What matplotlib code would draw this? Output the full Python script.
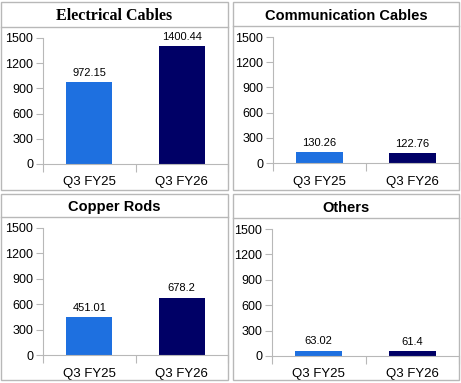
import matplotlib
matplotlib.use("Agg")
import matplotlib.pyplot as plt
from matplotlib.patches import Rectangle
from matplotlib.lines import Line2D

# dados de cada segmento (Q3 FY25 vs Q3 FY26)
periodos = ["Q3 FY25", "Q3 FY26"]
titulos = ["Electrical Cables", "Communication Cables", "Copper Rods", "Others"]
eletricos = [972.15, 1400.44]
comunicacao = [130.26, 122.76]
cobre = [451.01, 678.2]
outros = [63.02, 61.4]
valores = [eletricos, comunicacao, cobre, outros]
yticks = [0, 300, 600, 900, 1200, 1500]

cores = ["#1e70e0", "#000066"]
cinza = "#b8b8b8"

W, H = 461, 383
fig = plt.figure(figsize=(W / 100, H / 100), dpi=100)

# (borda do painel, linha do título, posição do eixo) em pixels, origem no topo
paineis = [
    ((1, 2, 228, 190), 27, (43, 38, 228, 164)),
    ((233, 2, 459, 190), 26, (273, 37, 459, 163)),
    ((1, 194, 228, 380), 217, (43, 228, 228, 355)),
    ((233, 194, 459, 380), 218, (272, 229, 459, 356)),
]


def fx(x):
    return x / W


def fy(y):
    return 1 - y / H


for i, (borda, linha_y, eixo) in enumerate(paineis):
    x0, y0, x1, y1 = borda
    fig.patches.append(Rectangle((fx(x0), fy(y1)), fx(x1) - fx(x0), fy(y0) - fy(y1),
                                 transform=fig.transFigure, fill=False,
                                 edgecolor=cinza, linewidth=1))
    fig.lines.append(Line2D([fx(x0), fx(x1)], [fy(linha_y), fy(linha_y)],
                            transform=fig.transFigure, color=cinza, linewidth=1))

    # título: o primeiro é serifado, os outros sans
    ty = fy((y0 + linha_y) / 2 + 2)
    if i == 0:
        fig.text(fx((x0 + x1) / 2), ty, titulos[i],
                 ha="center", va="center", fontsize=11.5, fontweight="bold",
                 family="Liberation Serif")
    else:
        fig.text(fx((x0 + x1) / 2), ty, titulos[i],
                 ha="center", va="center", fontsize=10.5, fontweight="bold",
                 family="Liberation Sans")

    l, t, r, b = eixo
    ax = fig.add_axes([fx(l), fy(b), fx(r) - fx(l), fy(t) - fy(b)])
    ax.bar(range(2), valores[i], width=0.5, color=cores)
    ax.set_xlim(-0.5, 1.5)
    ax.set_ylim(0, 1500)
    ax.set_yticks(yticks)
    ax.set_xticks([-0.5, 0.5, 1.5])
    ax.set_xticklabels([])
    ax.set_xticks([0, 1], minor=True)
    ax.set_xticklabels(periodos, minor=True, fontsize=9.5, family="Liberation Sans")
    ax.tick_params(axis="x", which="major", length=6, color=cinza)
    ax.tick_params(axis="x", which="minor", length=0, pad=9)
    ax.tick_params(axis="y", length=5, color=cinza, pad=2, labelsize=9)
    for lab in ax.get_yticklabels():
        lab.set_family("Liberation Sans")
    for lado in ["top", "right"]:
        ax.spines[lado].set_visible(False)
    for lado in ["left", "bottom"]:
        ax.spines[lado].set_color(cinza)
    ax.patch.set_alpha(0)

    for k, v in enumerate(valores[i]):
        ax.annotate(f"{v:g}", (k, v), xytext=(0, 3), textcoords="offset points",
                    ha="center", va="bottom", fontsize=8, family="Liberation Sans")

fig.savefig("out.png", dpi=100)
